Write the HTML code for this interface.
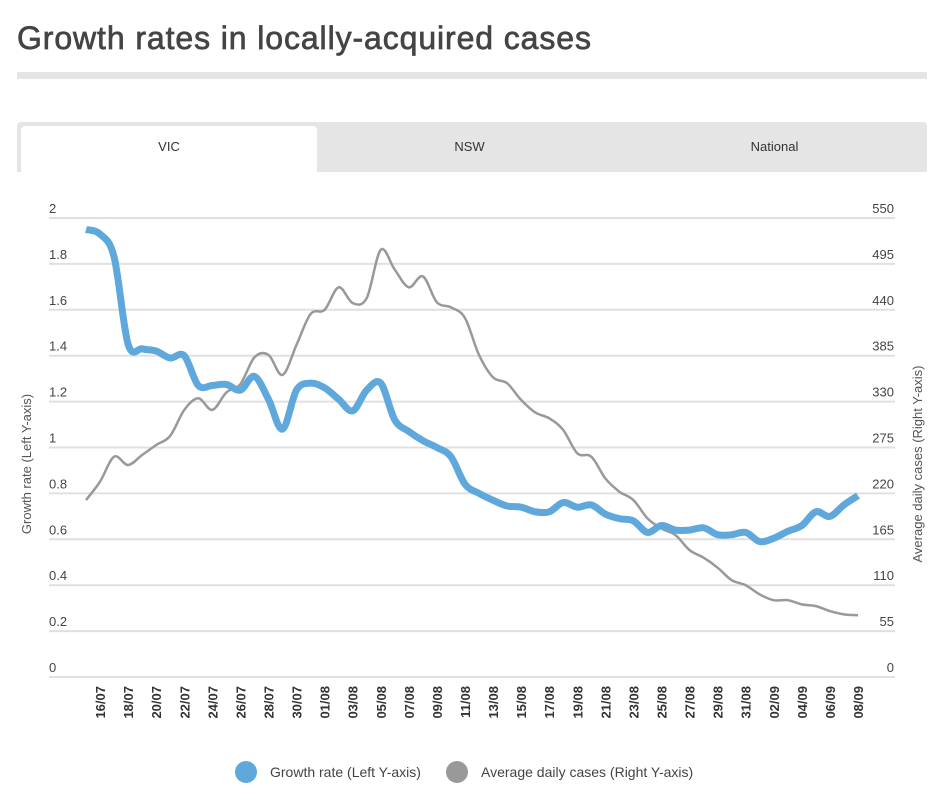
<!DOCTYPE html>
<html><head><meta charset="utf-8"><style>
body{margin:0;width:950px;height:804px;background:#fff;font-family:"Liberation Sans",sans-serif;overflow:hidden;position:relative}
.title{position:absolute;left:17px;top:20px;font-size:32px;font-weight:normal;color:#444;letter-spacing:0.9px;-webkit-text-stroke:0.7px #444}
.rule{position:absolute;left:17px;top:72px;width:910px;height:7px;background:#e5e5e5}
.tabs{position:absolute;left:17px;top:122px;width:910px;height:50px;background:#e5e5e5;border-radius:4px 4px 0 0}
.tab{position:absolute;top:4px;height:46px;line-height:42px;text-align:center;font-size:13px;color:#333}
.tab.active{background:#fff;border-radius:4px 4px 0 0}
svg{position:absolute;left:0;top:0}
</style></head><body>
<div class="title">Growth rates in locally-acquired cases</div>
<div class="rule"></div>
<div class="tabs">
<div class="tab active" style="left:4px;width:296px">VIC</div>
<div class="tab" style="left:300px;width:305px">NSW</div>
<div class="tab" style="left:605px;width:305px">National</div>
</div>
<svg id="chart" width="950" height="804"></svg>
<script>
const dates=["15/07","16/07","17/07","18/07","19/07","20/07","21/07","22/07","23/07","24/07","25/07","26/07","27/07","28/07","29/07","30/07","31/07","01/08","02/08","03/08","04/08","05/08","06/08","07/08","08/08","09/08","10/08","11/08","12/08","13/08","14/08","15/08","16/08","17/08","18/08","19/08","20/08","21/08","22/08","23/08","24/08","25/08","26/08","27/08","28/08","29/08","30/08","31/08","01/09","02/09","03/09","04/09","05/09","06/09","07/09","08/09"];
const growth=[1.95,1.93,1.83,1.45,1.43,1.42,1.39,1.40,1.27,1.27,1.275,1.25,1.31,1.21,1.08,1.25,1.28,1.26,1.21,1.16,1.25,1.28,1.12,1.07,1.03,1.0,0.96,0.84,0.80,0.77,0.745,0.74,0.72,0.72,0.76,0.74,0.75,0.71,0.69,0.68,0.63,0.66,0.64,0.64,0.65,0.62,0.62,0.63,0.59,0.605,0.635,0.66,0.72,0.70,0.75,0.79];
const cases=[212,234,264,254,266,278,289,320,334,320,341,351,383,386,362,398,435,440,467,448,454,512,488,467,480,449,443,430,386,359,352,332,317,310,296,268,264,238,222,212,190,178,170,152,143,131,116,110,99,92,92,87,85,79,75,74];
const leftTicks=["0","0.2","0.4","0.6","0.8","1","1.2","1.4","1.6","1.8","2"];
const rightTicks=["0","55","110","165","220","275","330","385","440","495","550"];
const NS="http://www.w3.org/2000/svg";
const svg=document.getElementById('chart');
const X0=86,X1=858,Y0=677,Y1=218;
const x=i=>X0+(X1-X0)*i/(dates.length-1);
const yL=v=>Y0-(Y0-Y1)*v/2;
const yR=v=>Y0-(Y0-Y1)*v/550;
function el(t,a,txt){const e=document.createElementNS(NS,t);for(const k in a)e.setAttribute(k,a[k]);if(txt!=null)e.textContent=txt;svg.appendChild(e);return e;}
leftTicks.forEach((t,i)=>{const yy=yL(+t);
const g=el('line',{x1:49,x2:895,y1:yy,y2:yy,stroke:'#e0e0e0','stroke-width':2});


const l=el('text',{x:49,y:yy-5,'font-size':13,fill:'#444'},t);


const r=el('text',{x:894,y:yy-5,'font-size':13,fill:'#444','text-anchor':'end'},rightTicks[i]);

});
dates.forEach((d,i)=>{if(i%2===1){const t=el('text',{x:0,y:0,'font-size':13,fill:'#333','font-weight':'bold','text-anchor':'end',transform:`translate(${x(i)+5},686) rotate(-90)`},d);

}});
function path(vals,f){const p=vals.map((v,i)=>[x(i),f(v)]);let d='M'+p[0][0].toFixed(1)+','+p[0][1].toFixed(1);
for(let i=0;i<p.length-1;i++){const p0=p[Math.max(0,i-1)],p1=p[i],p2=p[i+1],p3=p[Math.min(p.length-1,i+2)];const k=1/6;
d+=` C${(p1[0]+(p2[0]-p0[0])*k).toFixed(1)},${(p1[1]+(p2[1]-p0[1])*k).toFixed(1)} ${(p2[0]-(p3[0]-p1[0])*k).toFixed(1)},${(p2[1]-(p3[1]-p1[1])*k).toFixed(1)} ${p2[0].toFixed(1)},${p2[1].toFixed(1)}`;}
return d;}
const pc=el('path',{d:path(cases,yR),fill:'none',stroke:'#999','stroke-width':2.5,'stroke-linejoin':'round'});


const pg=el('path',{d:path(growth,yL),fill:'none',stroke:'#5fa8dc','stroke-width':7,'stroke-linejoin':'round'});


const at1=el('text',{x:0,y:0,'font-size':13,fill:'#555','text-anchor':'middle',transform:'translate(31,464) rotate(-90)'},'Growth rate (Left Y-axis)');


const at2=el('text',{x:0,y:0,'font-size':13,fill:'#555','text-anchor':'middle',transform:'translate(922,464) rotate(-90)'},'Average daily cases (Right Y-axis)');


const c1=el('circle',{cx:246,cy:772,r:11,fill:'#5fa8dc'});


const t1=el('text',{x:270,y:777,'font-size':14,fill:'#444'},'Growth rate (Left Y-axis)');


const c2=el('circle',{cx:457,cy:772,r:11,fill:'#999'});


const t2=el('text',{x:481,y:777,'font-size':14,fill:'#444'},'Average daily cases (Right Y-axis)');


</script>
</body></html>
